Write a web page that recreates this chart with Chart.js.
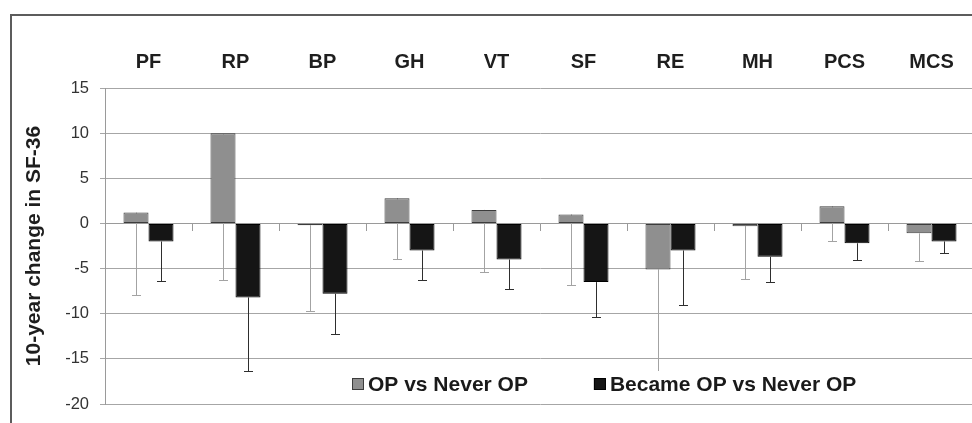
<!DOCTYPE html>
<html>
<head>
<meta charset="utf-8">
<title>10-year change in SF-36</title>
<script src="https://cdn.jsdelivr.net/npm/chart.js@4/dist/chart.umd.min.js"></script>
<style>
  html, body { margin: 0; padding: 0; overflow: hidden; background: #fff; }
  #frame {
    position: absolute; left: 10px; top: 14px; width: 1000px; height: 500px;
    border-top: 2px solid #5c5c5c; border-left: 2px solid #5c5c5c;
  }
  #wrap { position: absolute; left: 0; top: 0; width: 975px; height: 423px; }
</style>
</head>
<body>
<div id="frame"></div>
<div id="wrap"><canvas id="c"></canvas></div>
<script>
// SF-36 domains and summary scores
const categories = ['PF', 'RP', 'BP', 'GH', 'VT', 'SF', 'RE', 'MH', 'PCS', 'MCS'];

// Mean 10-year change, OP vs never OP, and lower confidence limit
const opVsNever    = [1.2, 10.0, -0.2, 2.8, 1.5, 1.0, -5.1, -0.3, 1.9, -1.1];
const opVsNeverLow = [-7.9, -6.3, -9.7, -3.9, -5.4, -6.8, -18.0, -6.2, -1.9, -4.2];

// Mean 10-year change, became OP vs never OP, and lower confidence limit
const becameVsNever    = [-2.0, -8.2, -7.8, -3.0, -4.0, -6.5, -3.0, -3.7, -2.2, -2.0];
const becameVsNeverLow = [-6.4, -16.3, -12.3, -6.3, -7.3, -10.4, -9.0, -6.5, -4.1, -3.3];

// y-axis range and step
const yMin = -20, yMax = 15, yStep = 5;

const FONT = "'Liberation Sans', Arial, sans-serif";

// Lower error whiskers, drawn behind the bars
const errorBars = {
  id: 'errorBars',
  beforeDatasetsDraw(chart) {
    const ctx = chart.ctx;
    const y = chart.scales.y;
    const area = chart.chartArea;
    ctx.save();
    ctx.beginPath();
    ctx.rect(area.left, area.top, area.right - area.left, area.bottom - area.top);
    ctx.clip();
    chart.data.datasets.forEach((ds, i) => {
      const meta = chart.getDatasetMeta(i);
      ctx.strokeStyle = ds.whiskerColor;
      ctx.lineWidth = 1;
      meta.data.forEach((bar, j) => {
        const x = Math.round(bar.x) + 0.5;
        const yTop = y.getPixelForValue(ds.data[j]);
        const yLow = Math.round(y.getPixelForValue(ds.lower[j])) + 0.5;
        ctx.beginPath();
        ctx.moveTo(x, yTop);
        ctx.lineTo(x, yLow);
        ctx.moveTo(x - 4.5, yLow);
        ctx.lineTo(x + 4.5, yLow);
        ctx.stroke();
      });
    });
    ctx.restore();
  }
};

// Legend box placed inside the plot, near its lower edge
const innerLegend = {
  id: 'innerLegend',
  afterDatasetsDraw(chart) {
    const ctx = chart.ctx;
    const area = chart.chartArea;
    const x0 = area.left + 247;
    const yMid = area.bottom - 20;
    const box = 12;
    const gap = 66;
    ctx.save();
    ctx.font = "bold 21px " + FONT;
    ctx.textBaseline = 'middle';
    ctx.textAlign = 'left';
    const items = chart.data.datasets.map(ds => ({
      label: ds.label, fill: ds.backgroundColor, stroke: ds.borderColor
    }));
    const widths = items.map(it => ctx.measureText(it.label).width);
    const total = box + 4 + widths[0] + gap + box + 4 + widths[1];
    // white legend background
    ctx.fillStyle = '#ffffff';
    ctx.fillRect(x0 - 7, yMid - 13, total + 14, 27);
    let x = x0;
    items.forEach((it, k) => {
      ctx.fillStyle = it.fill;
      ctx.fillRect(x, yMid - 6, box, box);
      ctx.strokeStyle = it.stroke;
      ctx.lineWidth = 1;
      ctx.strokeRect(x + 0.5, yMid - 5.5, box - 1, box - 1);
      ctx.fillStyle = '#1a1a1a';
      ctx.fillText(it.label, x + box + 4, yMid + 1);
      x += box + 4 + widths[k] + gap;
    });
    ctx.restore();
  }
};

new Chart(document.getElementById('c'), {
  type: 'bar',
  data: {
    labels: categories,
    datasets: [
      {
        label: 'OP vs Never OP',
        data: opVsNever,
        lower: opVsNeverLow,
        backgroundColor: '#8f8f8f',
        borderColor: '#3c3c3c',
        whiskerColor: '#a3a3a3',
        borderWidth: 1,
        borderSkipped: false,
        barPercentage: 1,
        categoryPercentage: 0.575
      },
      {
        label: 'Became OP vs Never OP',
        data: becameVsNever,
        lower: becameVsNeverLow,
        backgroundColor: '#151515',
        borderColor: '#000000',
        whiskerColor: '#2e2e2e',
        borderWidth: 1,
        borderSkipped: false,
        barPercentage: 1,
        categoryPercentage: 0.575
      }
    ]
  },
  options: {
    responsive: true,
    maintainAspectRatio: false,
    animation: false,
    devicePixelRatio: 1,
    layout: { padding: { left: 0, right: 0, top: 0, bottom: 19 } },
    plugins: {
      legend: { display: false },
      tooltip: { enabled: false }
    },
    scales: {
      x: {
        type: 'category',
        position: 'top',
        offset: true,
        grid: { display: false, drawTicks: false },
        border: { display: false },
        ticks: {
          color: '#1e1e1e',
          font: { family: FONT, size: 20, weight: 'bold' },
          padding: 14,
          maxRotation: 0,
          autoSkip: false
        },
        afterFit(s) { s.height = 88; }
      },
      x2: {
        type: 'category',
        axis: 'x',
        position: { y: 0 },
        offset: true,
        grid: { offset: true, drawOnChartArea: false, drawTicks: true, tickLength: 7, color: '#9a9a9a' },
        border: { display: true, color: '#9a9a9a' },
        ticks: { display: false },
        afterFit(s) { s.height = 0; }
      },
      y: {
        type: 'linear',
        min: yMin,
        max: yMax,
        ticks: {
          stepSize: yStep,
          color: '#333333',
          font: { family: FONT, size: 16.5 },
          padding: 11
        },
        grid: { color: '#a6a6a6', tickLength: 5, lineWidth: 1 },
        border: { display: true, color: '#9a9a9a' },
        title: {
          display: true,
          text: '10-year change in SF-36',
          color: '#1e1e1e',
          font: { family: FONT, size: 21, weight: 'bold' },
          padding: { top: 22, bottom: 0 }
        },
        afterFit(s) {
          s.width = 105;
          s.paddingTop = 0;
          s.paddingBottom = 0;
        }
      }
    }
  },
  plugins: [errorBars, innerLegend]
});
</script>
</body>
</html>
